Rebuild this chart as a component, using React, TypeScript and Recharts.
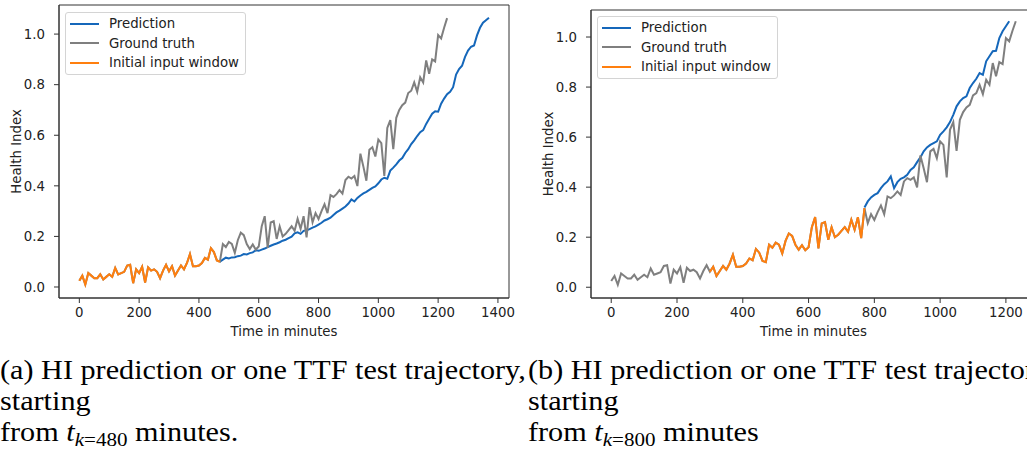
import { LineChart, Line, XAxis, YAxis, Legend, ReferenceArea } from 'recharts';

// samples are every 10 minutes, starting at t = 0
const STEP = 10;

// same degradation run in both panels
const groundTruth = [
  0.025, 0.045, 0.01, 0.055, 0.045, 0.035, 0.035, 0.05, 0.03, 0.04,
  0.05, 0.04, 0.075, 0.05, 0.055, 0.06, 0.085, 0.088, 0.015, 0.07,
  0.055, 0.08, 0.018, 0.078, 0.065, 0.07, 0.06, 0.035, 0.065, 0.088,
  0.062, 0.082, 0.045, 0.065, 0.085, 0.07, 0.095, 0.13, 0.082, 0.082,
  0.085, 0.095, 0.115, 0.108, 0.153, 0.138, 0.105, 0.1,
  0.17, 0.158, 0.178, 0.17, 0.135, 0.185, 0.215, 0.205, 0.17, 0.15,
  0.168, 0.148, 0.16, 0.24, 0.28, 0.155, 0.255, 0.26, 0.19, 0.24,
  0.2, 0.21, 0.225, 0.24, 0.222, 0.27, 0.23, 0.28, 0.196,
  0.316, 0.256, 0.292, 0.269, 0.3, 0.327, 0.292, 0.363, 0.356, 0.367,
  0.383, 0.369, 0.423, 0.436, 0.429, 0.439, 0.399, 0.527, 0.476, 0.42,
  0.543, 0.553, 0.516, 0.583, 0.569, 0.439, 0.629, 0.66, 0.545, 0.669,
  0.7, 0.719, 0.729, 0.767, 0.776, 0.809, 0.772, 0.829, 0.809, 0.896,
  0.843, 0.9, 0.892, 0.996, 0.983, 1.025, 1.063,
];

// (a) prediction from t = 470
const predictionA = [
  0.1, 0.108, 0.116, 0.113, 0.117, 0.118, 0.122, 0.124, 0.13, 0.129,
  0.134, 0.137, 0.145, 0.143, 0.148, 0.152, 0.158, 0.163, 0.168, 0.172,
  0.177, 0.183, 0.187, 0.193, 0.199, 0.212, 0.216, 0.21, 0.222, 0.224,
  0.229, 0.235, 0.24, 0.247, 0.254, 0.263, 0.268, 0.274, 0.285, 0.295,
  0.302, 0.31, 0.318, 0.33, 0.346, 0.338, 0.352, 0.362, 0.37, 0.376,
  0.384, 0.392, 0.398, 0.41, 0.425, 0.432, 0.428, 0.46, 0.472, 0.485,
  0.5, 0.51, 0.53, 0.545, 0.565, 0.58, 0.597, 0.612, 0.62, 0.645,
  0.665, 0.685, 0.695, 0.693, 0.725, 0.745, 0.762, 0.772, 0.79, 0.84,
  0.862, 0.875, 0.91, 0.935, 0.95, 0.955, 0.995, 1.025, 1.045, 1.055,
  1.065,
];

// (b) prediction from t = 770
const predictionB = [
  0.319, 0.343, 0.359, 0.369, 0.376, 0.396, 0.412, 0.423, 0.443, 0.396,
  0.42, 0.433, 0.439, 0.449, 0.469, 0.479, 0.5, 0.519, 0.543, 0.559,
  0.569, 0.576, 0.583, 0.609, 0.623, 0.639, 0.66, 0.689, 0.723, 0.743,
  0.756, 0.763, 0.796, 0.816, 0.833, 0.856, 0.849, 0.903, 0.923, 0.943,
  0.945, 0.996, 1.023, 1.043, 1.063,
];

const seriesNames = ['Prediction', 'Ground truth', 'Initial input window'];
const seriesColors = ['#1567ba', '#7f7f7f', '#ff7f0e'];

const yTicks = [0, 0.2, 0.4, 0.6, 0.8, 1.0];
const xTicksA = [0, 200, 400, 600, 800, 1000, 1200, 1400];
const xTicksB = [0, 200, 400, 600, 800, 1000, 1200];

const FONT = 'DejaVu Sans';
const INK = '#333';

function buildRows(pred: number[], predStart: number, winStart: number, winEnd: number) {
  const last = Math.max(groundTruth.length - 1, predStart / STEP + pred.length - 1);
  const rows = [];
  for (let i = 0; i <= last; i++) {
    const t = i * STEP;
    const gt = i < groundTruth.length ? groundTruth[i] : null;
    const p = i - predStart / STEP;
    rows.push({
      t,
      truth: gt,
      window: t >= winStart && t <= winEnd ? gt : null,
      pred: p >= 0 && p < pred.length ? pred[p] : null,
    });
  }
  return rows;
}

const rowsA = buildRows(predictionA, 470, 0, 470);
const rowsB = buildRows(predictionB, 770, 300, 770);

const LegendBox = () => (
  <div
    style={{
      border: '1px solid #d4d4d4',
      borderRadius: 3,
      background: 'rgba(255,255,255,0.85)',
      padding: '1px 6px 1px 4px',
      fontFamily: FONT,
      fontSize: 13.3,
      color: '#222',
      whiteSpace: 'nowrap',
    }}
  >
    {seriesNames.map((name, i) => (
      <div key={name} style={{ display: 'flex', alignItems: 'center', height: 19.5 }}>
        <svg width={29} height={4} style={{ marginRight: 10 }}>
          <line x1={0} y1={2} x2={29} y2={2} stroke={seriesColors[i]} strokeWidth={2} />
        </svg>
        <span>{name}</span>
      </div>
    ))}
  </div>
);

type PanelProps = {
  rows: ReturnType<typeof buildRows>;
  left: number;
  width: number;
  top: number;
  xDomain: [number, number];
  xTicks: number[];
  yDomain: [number, number];
  legendTop: number;
};

const Panel = ({ rows, left, width, top, xDomain, xTicks, yDomain, legendTop }: PanelProps) => (
  <div style={{ position: 'absolute', left, top: 0 }}>
    <LineChart width={width} height={340} data={rows} margin={{ top, right: 11, left: 0, bottom: 0 }}>
      <XAxis
        dataKey="t"
        type="number"
        domain={xDomain}
        ticks={xTicks}
        allowDataOverflow
        height={42}
        stroke={INK}
        tickSize={5}
        tickMargin={5}
        tick={{ fontSize: 13.3, fontFamily: FONT, fill: '#222' }}
        label={{ value: 'Time in minutes', position: 'insideBottom', offset: 4, fontSize: 13.3, fontFamily: FONT, fill: '#222' }}
      />
      <YAxis
        type="number"
        domain={yDomain}
        ticks={yTicks}
        allowDataOverflow
        width={59}
        stroke={INK}
        tickSize={5}
        tickMargin={9}
        tickFormatter={(v: number) => v.toFixed(1)}
        tick={{ fontSize: 13.3, fontFamily: FONT, fill: '#222' }}
        label={{ value: 'Health Index', angle: -90, position: 'insideLeft', offset: 16, fontSize: 13.3, fontFamily: FONT, fill: '#222', style: { textAnchor: 'middle' } }}
      />
      {/* plot frame (all four spines) */}
      <ReferenceArea x1={xDomain[0]} x2={xDomain[1]} y1={yDomain[0]} y2={yDomain[1]} fill="none" stroke={INK} strokeWidth={1} ifOverflow="visible" />
      <Legend
        layout="vertical"
        align="center"
        verticalAlign="middle"
        wrapperStyle={{ left: 65, top: legendTop, width: 'auto', height: 'auto' }}
        content={() => <LegendBox />}
      />
      <Line dataKey="pred" name={seriesNames[0]} stroke={seriesColors[0]} strokeWidth={2} dot={false} isAnimationActive={false} />
      <Line dataKey="truth" name={seriesNames[1]} stroke={seriesColors[1]} strokeWidth={2} dot={false} isAnimationActive={false} />
      <Line dataKey="window" name={seriesNames[2]} stroke={seriesColors[2]} strokeWidth={2} dot={false} isAnimationActive={false} />
    </LineChart>
  </div>
);

const CAP = 26.5;
const SUB = 18.5;
const SX = 1.14;

const Caption = ({ x, tag, start, tail }: { x: number; tag: string; start: string; tail: string }) => (
  <g fontFamily="Liberation Serif" fontSize={CAP} fill="#000">
    <text x={x / SX} y={379}>{`(${tag}) HI prediction or one TTF test trajectory,`}</text>
    <text x={x / SX} y={410}>starting</text>
    <text x={x / SX} y={441}>
      <tspan>from </tspan>
      <tspan fontStyle="italic">t</tspan>
      <tspan fontStyle="italic" fontSize={SUB} dy={5}>k</tspan>
      <tspan fontSize={SUB}>{`=${start}`}</tspan>
      <tspan dy={-5}>{tail}</tspan>
    </text>
  </g>
);

export default function App() {
  return (
    <div style={{ position: 'absolute', left: 0, top: 0, width: 1027, height: 453, overflow: 'hidden', background: '#fff' }}>
      <Panel rows={rowsA} left={0} width={520} top={5} xDomain={[-68, 1437]} xTicks={xTicksA} yDomain={[-0.0435, 1.115]} legendTop={12} />
      <Panel rows={rowsB} left={532} width={515} top={10} xDomain={[-61.5, 1291.5]} xTicks={xTicksB} yDomain={[-0.043, 1.108]} legendTop={16} />
      <svg width={1027} height={453} style={{ position: 'absolute', left: 0, top: 0, pointerEvents: 'none' }}>
        <g transform={`scale(${SX},1)`}>
          <Caption x={0} tag="a" start="480" tail=" minutes." />
          <Caption x={528} tag="b" start="800" tail=" minutes" />
        </g>
      </svg>
    </div>
  );
}
